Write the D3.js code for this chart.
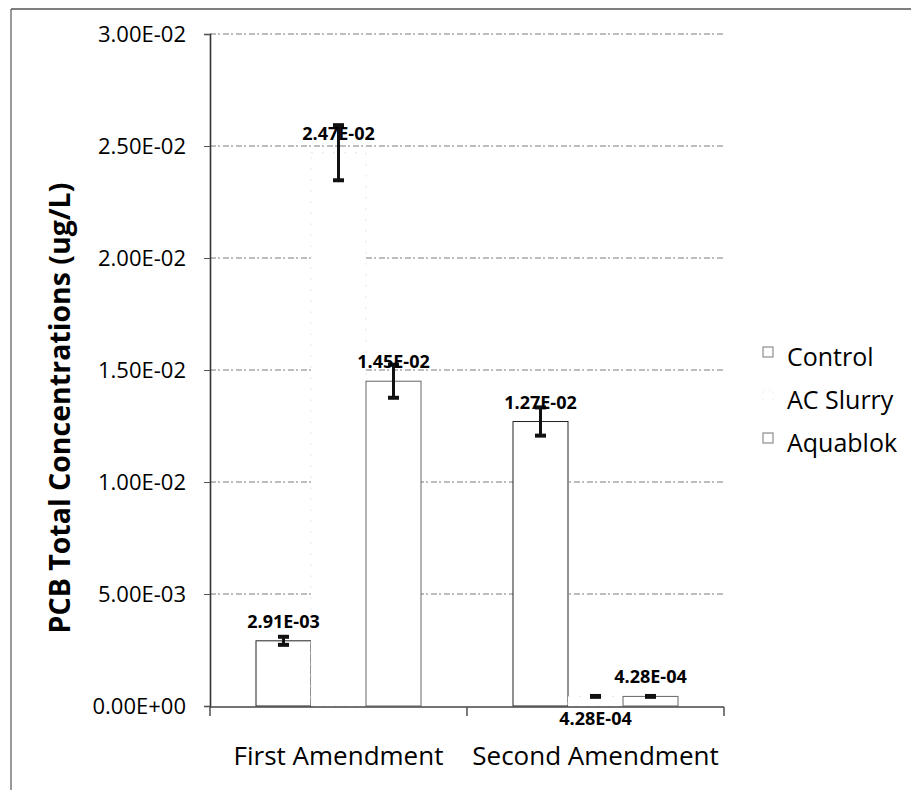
<!DOCTYPE html>
<html>
<head>
<meta charset="utf-8">
<script src="https://cdn.jsdelivr.net/npm/d3@7"></script>
<style>
  html, body { margin: 0; padding: 0; background: #fff; }
  svg { display: block; font-family: "Open Sans", "Noto Sans", sans-serif; }
</style>
</head>
<body>
<svg id="chart" width="911" height="790"></svg>
<script>
// PCB totals per amendment and treatment (ug/L), with error bar half-widths
const categories = ["First Amendment", "Second Amendment"];
const series = ["Control", "AC Slurry", "Aquablok"];
const controlValues = [2.91e-3, 1.27e-2];
const acSlurryValues = [2.47e-2, 4.28e-4];
const aquablokValues = [1.45e-2, 4.28e-4];
const controlErrors = [1.8e-4, 6.3e-4];
const acSlurryErrors = [1.23e-3, 2.0e-5];
const aquablokErrors = [7.4e-4, 2.0e-5];
const yTicks = [0, 0.005, 0.01, 0.015, 0.02, 0.025, 0.03];
const yTickLabels = ["0.00E+00", "5.00E-03", "1.00E-02", "1.50E-02", "2.00E-02", "2.50E-02", "3.00E-02"];
const yTitle = "PCB Total Concentrations (ug/L)";

const valuesBySeries = [controlValues, acSlurryValues, aquablokValues];
const errorsBySeries = [controlErrors, acSlurryErrors, aquablokErrors];

// Excel-style scientific notation, e.g. 2.47E-02
function sci(v) {
  const [m, e] = v.toExponential(2).split("e");
  const n = +e;
  return m + "E" + (n < 0 ? "-" : "+") + String(Math.abs(n)).padStart(2, "0");
}

const svg = d3.select("#chart");
const plot = { left: 210, right: 724, top: 34, bottom: 706 };

const x0 = d3.scaleBand().domain(categories).range([plot.left, plot.right]);
const x1 = d3.scaleBand().domain(series).range([46, x0.bandwidth() - 46]);
const y = d3.scaleLinear().domain([0, 0.03]).range([plot.bottom, plot.top]);

const fills = { "Control": "#ffffff", "AC Slurry": "#ffffff", "Aquablok": "#ffffff" };
const strokes = { "Control": "#222", "AC Slurry": "#e6e6e6", "Aquablok": "#666" };

// outer frame (top and left edges)
svg.append("line").attr("x1", 11).attr("x2", 911).attr("y1", 9).attr("y2", 9)
  .attr("stroke", "#555").attr("stroke-width", 1.5);
svg.append("line").attr("x1", 11).attr("x2", 11).attr("y1", 9).attr("y2", 790)
  .attr("stroke", "#555").attr("stroke-width", 1.2);

// horizontal gridlines
svg.append("g").selectAll("line").data(yTicks.slice(1)).join("line")
  .attr("x1", plot.left).attr("x2", plot.right)
  .attr("y1", d => y(d)).attr("y2", d => y(d))
  .attr("stroke", "#7a7a7a").attr("stroke-width", 1)
  .attr("stroke-dasharray", "6 2 2 3");

// y axis
const yAxis = d3.axisLeft(y).tickValues(yTicks)
  .tickFormat((d, i) => yTickLabels[i]).tickSize(6).tickPadding(18);
const gy = svg.append("g").attr("transform", `translate(${plot.left},0)`).call(yAxis);
gy.select(".domain").attr("stroke", "#333").attr("stroke-width", 1.6);
gy.selectAll(".tick line").attr("stroke", "#555");
gy.selectAll(".tick text").attr("font-size", 22).attr("fill", "#000")
  .attr("font-family", "'Open Sans', sans-serif");

// bars
const rows = [];
categories.forEach((c, ci) => series.forEach((s, si) => rows.push({
  cat: c, ser: s, ci, si, v: valuesBySeries[si][ci], err: errorsBySeries[si][ci]
})));

const barG = svg.append("g");
barG.selectAll("rect").data(rows).join("rect")
  .attr("x", d => x0(d.cat) + x1(d.ser))
  .attr("width", x1.bandwidth())
  .attr("y", d => y(d.v))
  .attr("height", d => y(0) - y(d.v))
  .attr("fill", d => fills[d.ser])
  .attr("stroke", d => strokes[d.ser])
  .attr("stroke-width", 1)
  .attr("stroke-dasharray", d => d.ser === "AC Slurry" ? "2 9" : null);

// x axis
const xAxisG = svg.append("g");
xAxisG.append("line").attr("x1", plot.left).attr("x2", plot.right)
  .attr("y1", y(0) + 1).attr("y2", y(0) + 1).attr("stroke", "#444").attr("stroke-width", 1.6);
const xBounds = [plot.left, ...categories.map(c => x0(c) + x0.bandwidth())];
xAxisG.selectAll("line.tk").data(xBounds).join("line").attr("class", "tk")
  .attr("x1", d => d).attr("x2", d => d)
  .attr("y1", y(0) + 1).attr("y2", y(0) + 10)
  .attr("stroke", "#444").attr("stroke-width", 1.4);
xAxisG.selectAll("text").data(categories).join("text")
  .attr("x", d => x0(d) + x0.bandwidth() / 2)
  .attr("y", 765)
  .attr("text-anchor", "middle")
  .attr("font-size", 26).attr("fill", "#000")
  .text(d => d);

// error bars
const errG = svg.append("g").attr("stroke", "#111");
rows.forEach(d => {
  const cx = x0(d.cat) + x1(d.ser) + x1.bandwidth() / 2;
  const yt = y(d.v + d.err), yb = y(d.v - d.err);
  errG.append("line").attr("x1", cx).attr("x2", cx).attr("y1", yt).attr("y2", yb)
    .attr("stroke-width", 3);
  [yt, yb].forEach(yy => errG.append("line")
    .attr("x1", cx - 5.5).attr("x2", cx + 5.5).attr("y1", yy).attr("y2", yy)
    .attr("stroke-width", 4));
});

// value labels (the tiny AC Slurry value sits beneath the axis)
svg.append("g").selectAll("text").data(rows).join("text")
  .attr("x", d => x0(d.cat) + x1(d.ser) + x1.bandwidth() / 2)
  .attr("y", d => (d.ser === "AC Slurry" && d.ci === 1) ? y(d.v) + 22 : y(d.v) - 20)
  .attr("dominant-baseline", "central")
  .attr("text-anchor", "middle")
  .attr("font-size", 18).attr("font-weight", "bold").attr("fill", "#000")
  .text(d => sci(d.v));

// y axis title
svg.append("text")
  .attr("transform", "translate(59,408) rotate(-90)")
  .attr("text-anchor", "middle").attr("dominant-baseline", "central")
  .attr("font-size", 28.5).attr("font-weight", "bold").attr("fill", "#000")
  .text(yTitle);

// legend
const legend = svg.append("g").attr("transform", "translate(763,0)");
const legY = [352, 395, 438];
series.forEach((s, i) => {
  legend.append("rect").attr("x", 0).attr("y", legY[i] - 5).attr("width", 10).attr("height", 10)
    .attr("fill", "#fff").attr("stroke", s === "AC Slurry" ? "#eee" : "#777")
    .attr("stroke-width", 1)
    .attr("stroke-dasharray", s === "AC Slurry" ? "2 4" : null);
  legend.append("text").attr("x", 24).attr("y", legY[i] + 4)
    .attr("dominant-baseline", "central")
    .attr("font-size", 25).attr("fill", "#000").text(s);
});
</script>
</body>
</html>
